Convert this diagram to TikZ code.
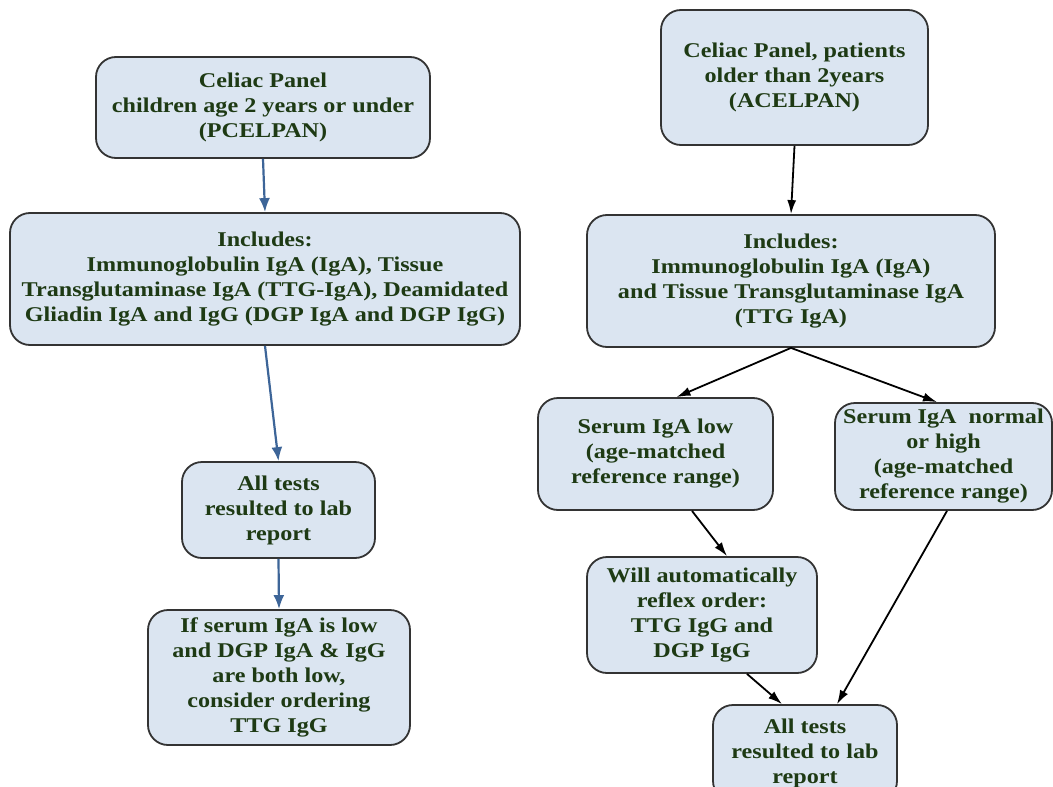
\documentclass[tikz,border=0pt]{standalone}
\usepackage{fontspec}
\newfontfamily\boxfont[FakeStretch=1.15]{Liberation Serif}
\usetikzlibrary{arrows.meta,calc}
\definecolor{boxfill}{HTML}{DBE5F1}
\definecolor{boxline}{HTML}{333333}
\definecolor{txtgreen}{HTML}{1E3A14}
\definecolor{arrblue}{HTML}{3D6598}
\tikzset{
  flowbox/.style={draw=boxline, line width=1.8pt, fill=boxfill, rounded corners=20pt,
    align=center, text=txtgreen, inner sep=0pt,
    font=\boxfont\bfseries\fontsize{21}{25}\selectfont},
  bluearrow/.style={draw=arrblue, line width=2.2pt, -{Latex[length=14pt,width=11pt]}},
  blackarrow/.style={draw=black, line width=1.8pt, -{Latex[length=14pt,width=9pt]}}
}
\begin{document}
\begin{tikzpicture}[x=1pt,y=-1pt]
\useasboundingbox[fill=white] (0,0) rectangle (1053,787);
% left column
\node[flowbox, minimum width=334pt, minimum height=101pt] (A1) at (263,107.5)
  {Celiac Panel\\children age 2 years or under\\(PCELPAN)};
\node[flowbox, minimum width=510pt, minimum height=132pt] (A2) at (265,279)
  {Includes:\\Immunoglobulin IgA (IgA), Tissue\\Transglutaminase IgA (TTG-IgA), Deamidated\\Gliadin IgA and IgG (DGP IgA and DGP IgG)};
\node[flowbox, minimum width=193pt, minimum height=96pt] (A3) at (278.5,510)
  {All tests\\resulted to lab\\report};
\node[flowbox, minimum width=262pt, minimum height=135pt] (A4) at (279,677.5)
  {If serum IgA is low\\and DGP IgA \& IgG\\are both low,\\consider ordering\\TTG IgG};
% right column
\node[flowbox, minimum width=267pt, minimum height=135pt] (B1) at (794.5,77.5)
  {Celiac Panel, patients\\older than 2years\\(ACELPAN)};
\node[flowbox, minimum width=408pt, minimum height=132pt] (B2) at (791,281)
  {Includes:\\Immunoglobulin IgA (IgA)\\and Tissue Transglutaminase IgA\\(TTG IgA)};
\node[flowbox, minimum width=235pt, minimum height=112pt] (B3) at (655.5,454)
  {Serum IgA low\\(age-matched\\reference range)};
\node[flowbox, minimum width=217pt, minimum height=107pt] (B4) at (943.5,456.5)
  {Serum IgA~ normal\\or high\\(age-matched\\reference range)};
\node[flowbox, minimum width=230pt, minimum height=116pt] (B5) at (702,615)
  {Will automatically\\reflex order:\\TTG IgG and\\DGP IgG};
\node[flowbox, minimum width=184pt, minimum height=96pt] (B6) at (805,753)
  {All tests\\resulted to lab\\report};
% left arrows
\draw[bluearrow] (A1.south) -- (A2.north);
\draw[bluearrow] (A2.south) -- (A3.north);
\draw[bluearrow] (A3.south) -- (A4.north);
% right arrows
\draw[blackarrow] (B1.south) -- (B2.north);
\draw[blackarrow] (B2.south) -- ([xshift=21pt]B3.north);
\draw[blackarrow] (B2.south) -- ([xshift=-6.5pt]B4.north);
\draw[blackarrow] ([xshift=36.5pt]B3.south) -- ([xshift=25pt]B5.north);
\draw[blackarrow] ([xshift=45pt]B5.south) -- ([xshift=-23pt]B6.north);
\draw[blackarrow] ([xshift=3.5pt]B4.south) -- ([xshift=32pt]B6.north);
\end{tikzpicture}
\end{document}
